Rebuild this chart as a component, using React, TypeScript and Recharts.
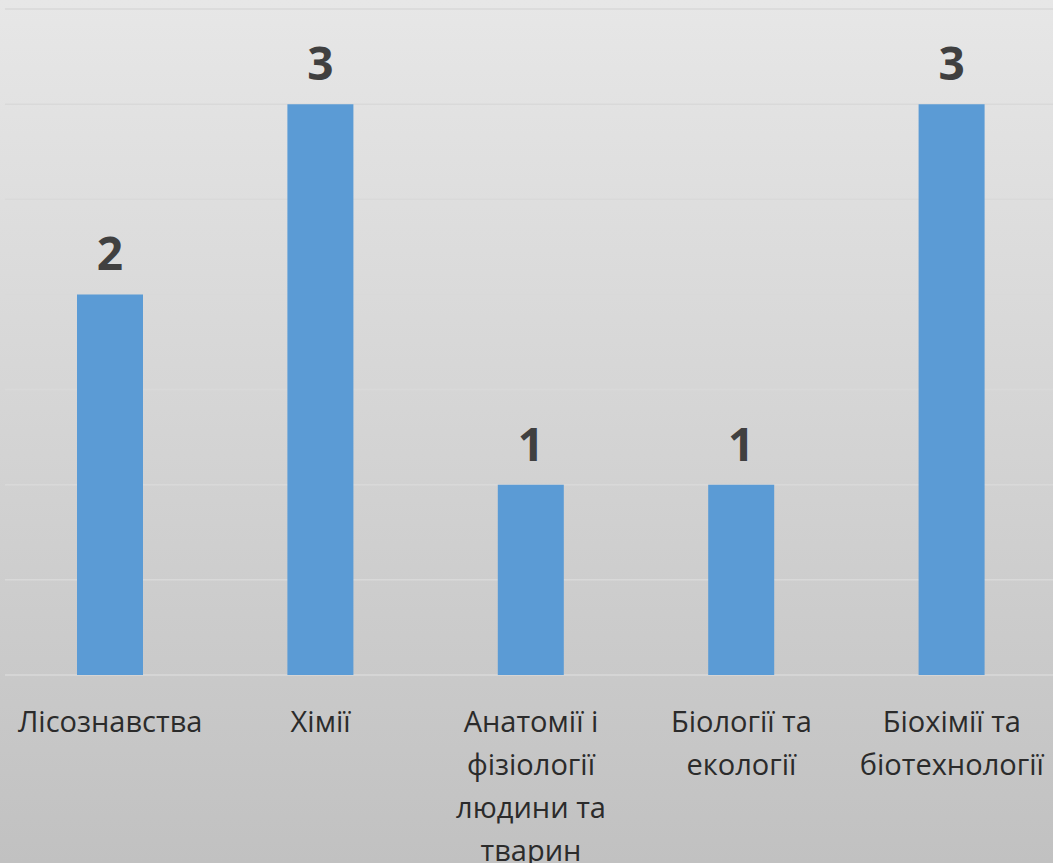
import React from 'react';
import { BarChart, Bar, XAxis, YAxis, CartesianGrid, LabelList } from 'recharts';

const departments = [
  'Лісознавства',
  'Хімії',
  'Анатомії і фізіології людини та тварин',
  'Біології та екології',
  'Біохімії та біотехнології'
];
const counts = [2, 3, 1, 1, 3];
const yTicks = [0, 0.5, 1, 1.5, 2, 2.5, 3, 3.5];

const data = departments.map((name, i) => ({ name, value: counts[i] }));

const LABEL_FONT = "29px 'Open Sans'";
let measureCtx: CanvasRenderingContext2D | null = null;

// wrap words into lines no wider than maxWidth, measured on a canvas
const wrapWords = (text: string, maxWidth: number) => {
  if (!measureCtx) measureCtx = document.createElement('canvas').getContext('2d');
  const ctx = measureCtx!;
  ctx.font = LABEL_FONT;
  const lines: string[] = [];
  let line = '';
  text.split(' ').forEach((word) => {
    const next = line ? `${line} ${word}` : word;
    if (line && ctx.measureText(next).width > maxWidth) {
      lines.push(line);
      line = word;
    } else {
      line = next;
    }
  });
  if (line) lines.push(line);
  return lines;
};

const CategoryTick = (props: any) => {
  const { x, y, payload } = props;
  const lines = wrapWords(payload.value, 200);
  return (
    <text
      x={x}
      y={y + 57}
      textAnchor="middle"
      fill="#2b2b2b"
      style={{ fontSize: 29, fontFamily: 'Open Sans' }}
    >
      {lines.map((l, i) => (
        <tspan key={i} x={x} dy={i === 0 ? 0 : 43}>
          {l}
        </tspan>
      ))}
    </text>
  );
};

const App: React.FC = () => (
  <div
    style={{
      position: 'absolute',
      left: 0,
      top: 0,
      width: 1053,
      height: 863,
      background: 'linear-gradient(to bottom, #e7e7e7 0%, #c1c1c1 100%)',
      overflow: 'hidden'
    }}
  >
    <BarChart
      width={1053}
      height={863}
      data={data}
      margin={{ top: 9, right: -4, left: 5, bottom: 0 }}
    >
      <CartesianGrid vertical={false} stroke="#d9d9d9" strokeWidth={1.5} />
      <XAxis
        dataKey="name"
        height={188}
        axisLine={false}
        tickLine={false}
        tickSize={0}
        tickMargin={0}
        interval={0}
        tick={<CategoryTick />}
      />
      <YAxis hide domain={[0, 3.5]} ticks={yTicks} />
      <Bar dataKey="value" fill="#5b9bd5" barSize={66} isAnimationActive={false}>
        <LabelList
          dataKey="value"
          position="top"
          offset={24}
          fill="#404040"
          style={{ fontSize: 46, fontWeight: 700, fontFamily: 'Open Sans' }}
        />
      </Bar>
    </BarChart>
  </div>
);

export default App;
